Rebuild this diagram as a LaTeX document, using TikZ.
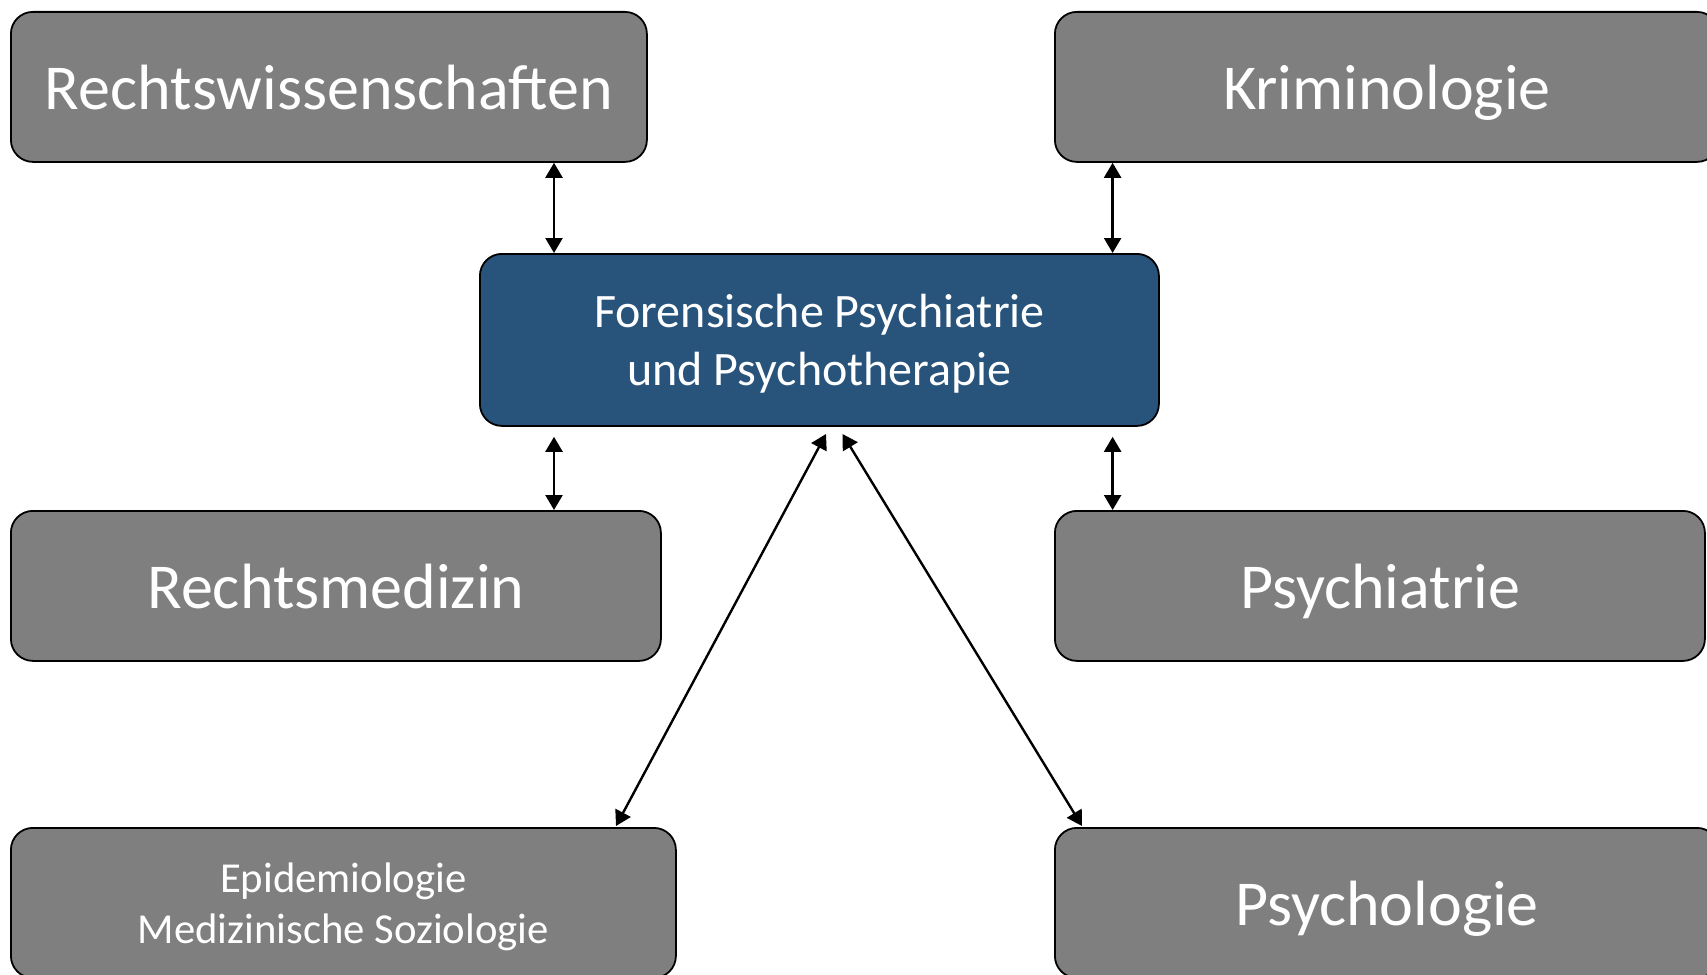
\documentclass[tikz,border=0pt]{standalone}
\usepackage{fontspec}
\setmainfont{Carlito}
\usetikzlibrary{arrows.meta}
\definecolor{boxgray}{RGB}{127,127,127}
\definecolor{boxblue}{RGB}{40,84,124}
\tikzset{
  gbox/.style={draw=black, line width=1.8pt, rounded corners=22pt, fill=boxgray, text=white, anchor=north west, inner sep=0pt, align=center, text depth=0pt},
  cbox/.style={gbox, fill=boxblue},
  link/.style={line width=2.4pt, {Triangle[length=15pt,width=17pt]}-{Triangle[length=15pt,width=17pt]}},
  big/.style={font=\fontsize{64}{76}\selectfont, text height=45pt},
}
\begin{document}
\begin{tikzpicture}[x=1pt,y=-1pt]
\useasboundingbox (0,0) rectangle (1707,974);
\node[gbox, big, minimum width=636pt, minimum height=150pt] (rw) at (10,11) {Rechtswissenschaften};
\node[gbox, big, minimum width=664pt, minimum height=150pt] (kr) at (1054,11) {Kriminologie};
\node[cbox, font=\fontsize{48}{58}\selectfont, minimum width=679pt, minimum height=172pt] (cen) at (479,253) {Forensische Psychiatrie\\und Psychotherapie};
\node[gbox, big, minimum width=650pt, minimum height=150pt] (rm) at (10,510) {Rechtsmedizin};
\node[gbox, big, minimum width=650pt, minimum height=150pt] (ps) at (1054,510) {Psychiatrie};
\node[gbox, font=\fontsize{42.7}{51}\selectfont, minimum width=665pt, minimum height=150pt] (ep) at (10,827) {Epidemiologie\\Medizinische Soziologie};
\node[gbox, big, minimum width=664pt, minimum height=150pt] (py) at (1054,827) {Psychologie};
\coordinate (xl) at (554,0);
\coordinate (xr) at (1112.6,0);
\coordinate (d1s) at (826,434);
\coordinate (d1e) at (616,826);
\coordinate (d2s) at (842.5,434);
\coordinate (d2e) at (1082,826);
\draw[link] (rw.south -| xl) -- (cen.north -| xl);
\draw[link] (kr.south -| xr) -- (cen.north -| xr);
\draw[link] ([yshift=-10pt]cen.south -| xl) -- (rm.north -| xl);
\draw[link] ([yshift=-10pt]cen.south -| xr) -- (ps.north -| xr);
\draw[link] (d1s) -- (d1e);
\draw[link] (d2s) -- (d2e);
\end{tikzpicture}
\end{document}
